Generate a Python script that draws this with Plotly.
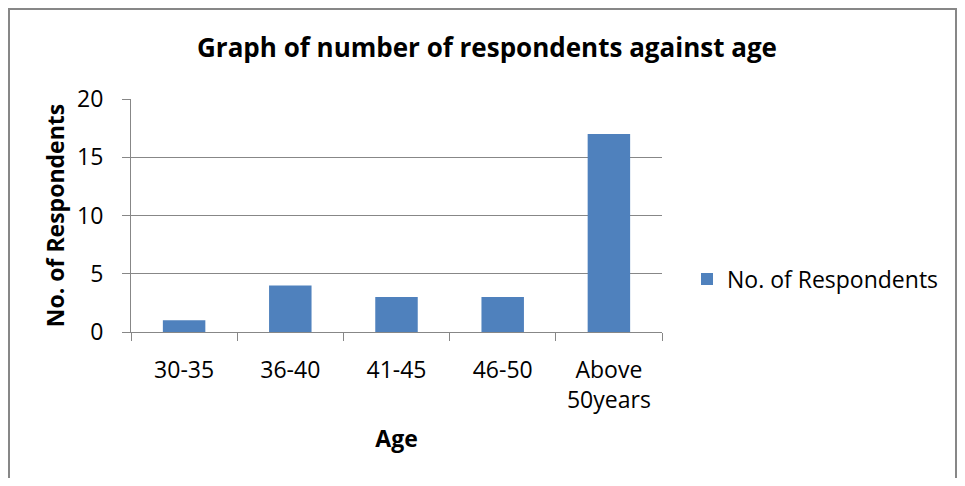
import plotly.graph_objects as go

categories = ["30-35", "36-40", "41-45", "46-50", "Above<br>50years"]
respondents = [1, 4, 3, 3, 17]
series_name = "No. of Respondents"
y_ticks = [0, 5, 10, 15, 20]

FONT = "Open Sans, Liberation Sans, sans-serif"
GRAY = "#878787"

fig = go.Figure()
fig.add_trace(go.Bar(
    x=categories, y=respondents, name=series_name,
    marker=dict(color="#4F81BD", line=dict(width=0)),
    width=0.4,
))

# the page body has an 8px margin, so figure coords = window coords - 8
OFF = 8
W, H = 965 - 2 * OFF, 486 - 2 * OFF
L, R, T, B = 131 - OFF, 662 - OFF, 99 - OFF, 332 - OFF
pw, ph = R - L, B - T

fig.update_layout(
    width=W, height=H,
    margin=dict(l=L, r=W - R, t=T, b=H - B, pad=0),
    paper_bgcolor="white", plot_bgcolor="white",
    font=dict(family=FONT, size=23, color="black"),
    title=dict(text="<b>Graph of number of respondents against age</b>",
               x=(487 - OFF) / W, xanchor="center", y=1 - (48 - OFF) / H, yanchor="middle",
               font=dict(size=26, family=FONT)),
    showlegend=True,
    legend=dict(x=(687 - OFF - L) / pw, xanchor="left", y=(B - (279 - OFF)) / ph, yanchor="middle",
                font=dict(size=23), bgcolor="rgba(0,0,0,0)", itemwidth=30),
    bargap=0.6,
    xaxis=dict(
        title=dict(text="<b>Age</b>", font=dict(size=23), standoff=17),
        showline=True, linecolor=GRAY, linewidth=1,
        ticks="outside", tickson="boundaries", ticklen=8, tickcolor=GRAY,
        showgrid=False, tickfont=dict(size=23), ticklabelstandoff=17,
    ),
    yaxis=dict(
        title=dict(text="<b>No. of Respondents</b>", font=dict(size=23), standoff=6),
        range=[0, 20], tickvals=y_ticks,
        showline=True, linecolor=GRAY, linewidth=1,
        ticks="outside", ticklen=8, tickcolor=GRAY,
        showgrid=True, gridcolor=GRAY, gridwidth=1,
        zeroline=False, tickfont=dict(size=23), ticklabelstandoff=14,
    ),
)

# outer chart border
fig.add_shape(type="rect", xref="paper", yref="paper",
              x0=(1 - L) / pw, x1=(W - 1 - L) / pw,
              y0=(B - (H + 20)) / ph, y1=(B - 1) / ph,
              line=dict(color=GRAY, width=2), fillcolor="rgba(0,0,0,0)", layer="below")

fig.write_html("out.html")
